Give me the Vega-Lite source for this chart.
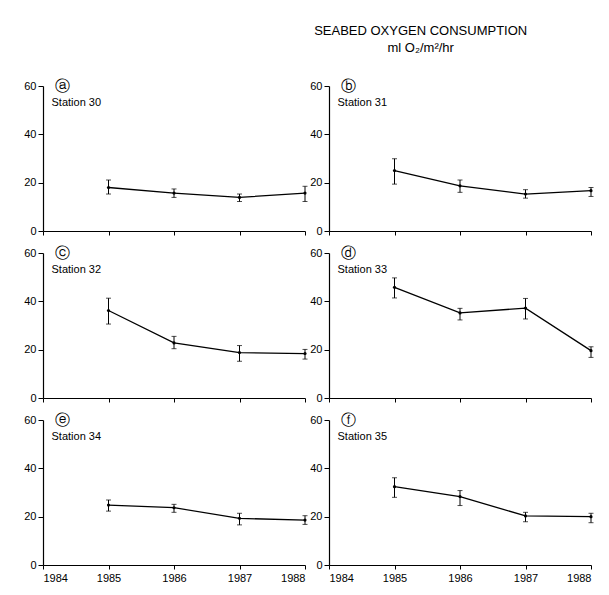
{
  "$schema": "https://vega.github.io/schema/vega-lite/v6.json",
  "padding": {"left": 23, "top": 25, "right": 5, "bottom": 5},
  "background": "white",
  "title": {"text": "SEABED OXYGEN CONSUMPTION", "subtitle": "ml O₂/m²/hr", "anchor": "middle", "dx": 112, "font": "Liberation Sans", "fontSize": 13, "fontWeight": "normal", "color": "black", "subtitleFont": "Liberation Sans", "subtitleFontSize": 13, "subtitleColor": "black", "subtitlePadding": 4, "offset": 24},
  "datasets": {
    "obs": [
      {"station": "Station 30", "year": 1985, "value": 18.0, "lo": 15.3, "hi": 21.1},
      {"station": "Station 30", "year": 1986, "value": 15.7, "lo": 13.9, "hi": 17.4},
      {"station": "Station 30", "year": 1987, "value": 13.9, "lo": 12.2, "hi": 15.3},
      {"station": "Station 30", "year": 1988, "value": 15.7, "lo": 12.2, "hi": 18.5},
      {"station": "Station 31", "year": 1985, "value": 25.0, "lo": 19.4, "hi": 29.9},
      {"station": "Station 31", "year": 1986, "value": 18.7, "lo": 16.0, "hi": 21.1},
      {"station": "Station 31", "year": 1987, "value": 15.3, "lo": 13.6, "hi": 17.1},
      {"station": "Station 31", "year": 1988, "value": 16.7, "lo": 14.3, "hi": 18.0},
      {"station": "Station 32", "year": 1985, "value": 36.2, "lo": 30.6, "hi": 41.3},
      {"station": "Station 32", "year": 1986, "value": 22.8, "lo": 20.4, "hi": 25.5},
      {"station": "Station 32", "year": 1987, "value": 18.8, "lo": 15.2, "hi": 21.7},
      {"station": "Station 32", "year": 1988, "value": 18.4, "lo": 16.1, "hi": 20.1},
      {"station": "Station 33", "year": 1985, "value": 45.8, "lo": 41.4, "hi": 49.7},
      {"station": "Station 33", "year": 1986, "value": 35.2, "lo": 32.3, "hi": 37.1},
      {"station": "Station 33", "year": 1987, "value": 37.2, "lo": 32.7, "hi": 41.2},
      {"station": "Station 33", "year": 1988, "value": 19.6, "lo": 16.8, "hi": 21.2},
      {"station": "Station 34", "year": 1985, "value": 24.8, "lo": 22.3, "hi": 26.9},
      {"station": "Station 34", "year": 1986, "value": 23.7, "lo": 21.8, "hi": 25.1},
      {"station": "Station 34", "year": 1987, "value": 19.3, "lo": 16.6, "hi": 21.4},
      {"station": "Station 34", "year": 1988, "value": 18.6, "lo": 16.8, "hi": 20.4},
      {"station": "Station 35", "year": 1985, "value": 32.4, "lo": 28.0, "hi": 36.1},
      {"station": "Station 35", "year": 1986, "value": 28.3, "lo": 24.6, "hi": 30.8},
      {"station": "Station 35", "year": 1987, "value": 20.3, "lo": 17.9, "hi": 21.8},
      {"station": "Station 35", "year": 1988, "value": 20.0, "lo": 17.5, "hi": 21.4}
    ]
  },
  "columns": 2,
  "spacing": {"row": 22, "column": 24},
  "bounds": "flush",
  "concat": [
    {"width": 262, "height": 145,
     "layer": [
       {"data": {"name": "obs"}, "transform": [{"filter": "datum.station === 'Station 30'"}],
        "encoding": {"x": {"field": "year", "type": "quantitative", "scale": {"domain": [1984, 1988]}, "title": null, "axis": {"values": [1984, 1985, 1986, 1987, 1988], "format": "d", "labels": false}}},
        "layer": [
          {"mark": {"type": "rule", "color": "black", "strokeWidth": 1}, "encoding": {"y": {"field": "lo", "type": "quantitative", "title": null, "scale": {"domain": [0, 60]}, "axis": {"values": [0, 5, 10, 15, 20, 25, 30, 35, 40, 45, 50, 55, 60], "labelExpr": "datum.value % 20 === 0 ? datum.label : ''", "tickSize": {"condition": {"test": "datum.value % 20 === 0", "value": 5}, "value": 2}}}, "y2": {"field": "hi"}}},
          {"mark": {"type": "tick", "orient": "horizontal", "color": "black", "size": 5, "thickness": 1}, "encoding": {"y": {"field": "lo", "type": "quantitative", "title": null}}},
          {"mark": {"type": "tick", "orient": "horizontal", "color": "black", "size": 5, "thickness": 1}, "encoding": {"y": {"field": "hi", "type": "quantitative", "title": null}}},
          {"mark": {"type": "line", "color": "black", "strokeWidth": 1.3}, "encoding": {"y": {"field": "value", "type": "quantitative", "title": null}}},
          {"mark": {"type": "point", "filled": true, "color": "black", "size": 10, "opacity": 1}, "encoding": {"y": {"field": "value", "type": "quantitative", "title": null}}}
        ]},
       {"data": {"values": [{"letter": "ⓐ", "station": "Station 30"}]}, "mark": {"type": "text", "font": "DejaVu Sans", "fontSize": 15, "align": "center", "baseline": "middle", "color": "black"}, "encoding": {"x": {"datum": 1984.3, "type": "quantitative"}, "y": {"datum": 60, "type": "quantitative"}, "text": {"field": "letter"}}},
       {"data": {"values": [{"letter": "ⓐ", "station": "Station 30"}]}, "mark": {"type": "text", "font": "Liberation Sans", "fontSize": 11, "align": "left", "baseline": "middle", "color": "black"}, "encoding": {"x": {"datum": 1984.13, "type": "quantitative"}, "y": {"datum": 53, "type": "quantitative"}, "text": {"field": "station"}}}
     ]},
    {"width": 262, "height": 145,
     "layer": [
       {"data": {"name": "obs"}, "transform": [{"filter": "datum.station === 'Station 31'"}],
        "encoding": {"x": {"field": "year", "type": "quantitative", "scale": {"domain": [1984, 1988]}, "title": null, "axis": {"values": [1984, 1985, 1986, 1987, 1988], "format": "d", "labels": false}}},
        "layer": [
          {"mark": {"type": "rule", "color": "black", "strokeWidth": 1}, "encoding": {"y": {"field": "lo", "type": "quantitative", "title": null, "scale": {"domain": [0, 60]}, "axis": {"values": [0, 5, 10, 15, 20, 25, 30, 35, 40, 45, 50, 55, 60], "labelExpr": "datum.value % 20 === 0 ? datum.label : ''", "tickSize": {"condition": {"test": "datum.value % 20 === 0", "value": 5}, "value": 2}}}, "y2": {"field": "hi"}}},
          {"mark": {"type": "tick", "orient": "horizontal", "color": "black", "size": 5, "thickness": 1}, "encoding": {"y": {"field": "lo", "type": "quantitative", "title": null}}},
          {"mark": {"type": "tick", "orient": "horizontal", "color": "black", "size": 5, "thickness": 1}, "encoding": {"y": {"field": "hi", "type": "quantitative", "title": null}}},
          {"mark": {"type": "line", "color": "black", "strokeWidth": 1.3}, "encoding": {"y": {"field": "value", "type": "quantitative", "title": null}}},
          {"mark": {"type": "point", "filled": true, "color": "black", "size": 10, "opacity": 1}, "encoding": {"y": {"field": "value", "type": "quantitative", "title": null}}}
        ]},
       {"data": {"values": [{"letter": "ⓑ", "station": "Station 31"}]}, "mark": {"type": "text", "font": "DejaVu Sans", "fontSize": 15, "align": "center", "baseline": "middle", "color": "black"}, "encoding": {"x": {"datum": 1984.3, "type": "quantitative"}, "y": {"datum": 60, "type": "quantitative"}, "text": {"field": "letter"}}},
       {"data": {"values": [{"letter": "ⓑ", "station": "Station 31"}]}, "mark": {"type": "text", "font": "Liberation Sans", "fontSize": 11, "align": "left", "baseline": "middle", "color": "black"}, "encoding": {"x": {"datum": 1984.13, "type": "quantitative"}, "y": {"datum": 53, "type": "quantitative"}, "text": {"field": "station"}}}
     ]},
    {"width": 262, "height": 145,
     "layer": [
       {"data": {"name": "obs"}, "transform": [{"filter": "datum.station === 'Station 32'"}],
        "encoding": {"x": {"field": "year", "type": "quantitative", "scale": {"domain": [1984, 1988]}, "title": null, "axis": {"values": [1984, 1985, 1986, 1987, 1988], "format": "d", "labels": false}}},
        "layer": [
          {"mark": {"type": "rule", "color": "black", "strokeWidth": 1}, "encoding": {"y": {"field": "lo", "type": "quantitative", "title": null, "scale": {"domain": [0, 60]}, "axis": {"values": [0, 5, 10, 15, 20, 25, 30, 35, 40, 45, 50, 55, 60], "labelExpr": "datum.value % 20 === 0 ? datum.label : ''", "tickSize": {"condition": {"test": "datum.value % 20 === 0", "value": 5}, "value": 2}}}, "y2": {"field": "hi"}}},
          {"mark": {"type": "tick", "orient": "horizontal", "color": "black", "size": 5, "thickness": 1}, "encoding": {"y": {"field": "lo", "type": "quantitative", "title": null}}},
          {"mark": {"type": "tick", "orient": "horizontal", "color": "black", "size": 5, "thickness": 1}, "encoding": {"y": {"field": "hi", "type": "quantitative", "title": null}}},
          {"mark": {"type": "line", "color": "black", "strokeWidth": 1.3}, "encoding": {"y": {"field": "value", "type": "quantitative", "title": null}}},
          {"mark": {"type": "point", "filled": true, "color": "black", "size": 10, "opacity": 1}, "encoding": {"y": {"field": "value", "type": "quantitative", "title": null}}}
        ]},
       {"data": {"values": [{"letter": "ⓒ", "station": "Station 32"}]}, "mark": {"type": "text", "font": "DejaVu Sans", "fontSize": 15, "align": "center", "baseline": "middle", "color": "black"}, "encoding": {"x": {"datum": 1984.3, "type": "quantitative"}, "y": {"datum": 60, "type": "quantitative"}, "text": {"field": "letter"}}},
       {"data": {"values": [{"letter": "ⓒ", "station": "Station 32"}]}, "mark": {"type": "text", "font": "Liberation Sans", "fontSize": 11, "align": "left", "baseline": "middle", "color": "black"}, "encoding": {"x": {"datum": 1984.13, "type": "quantitative"}, "y": {"datum": 53, "type": "quantitative"}, "text": {"field": "station"}}}
     ]},
    {"width": 262, "height": 145,
     "layer": [
       {"data": {"name": "obs"}, "transform": [{"filter": "datum.station === 'Station 33'"}],
        "encoding": {"x": {"field": "year", "type": "quantitative", "scale": {"domain": [1984, 1988]}, "title": null, "axis": {"values": [1984, 1985, 1986, 1987, 1988], "format": "d", "labels": false}}},
        "layer": [
          {"mark": {"type": "rule", "color": "black", "strokeWidth": 1}, "encoding": {"y": {"field": "lo", "type": "quantitative", "title": null, "scale": {"domain": [0, 60]}, "axis": {"values": [0, 5, 10, 15, 20, 25, 30, 35, 40, 45, 50, 55, 60], "labelExpr": "datum.value % 20 === 0 ? datum.label : ''", "tickSize": {"condition": {"test": "datum.value % 20 === 0", "value": 5}, "value": 2}}}, "y2": {"field": "hi"}}},
          {"mark": {"type": "tick", "orient": "horizontal", "color": "black", "size": 5, "thickness": 1}, "encoding": {"y": {"field": "lo", "type": "quantitative", "title": null}}},
          {"mark": {"type": "tick", "orient": "horizontal", "color": "black", "size": 5, "thickness": 1}, "encoding": {"y": {"field": "hi", "type": "quantitative", "title": null}}},
          {"mark": {"type": "line", "color": "black", "strokeWidth": 1.3}, "encoding": {"y": {"field": "value", "type": "quantitative", "title": null}}},
          {"mark": {"type": "point", "filled": true, "color": "black", "size": 10, "opacity": 1}, "encoding": {"y": {"field": "value", "type": "quantitative", "title": null}}}
        ]},
       {"data": {"values": [{"letter": "ⓓ", "station": "Station 33"}]}, "mark": {"type": "text", "font": "DejaVu Sans", "fontSize": 15, "align": "center", "baseline": "middle", "color": "black"}, "encoding": {"x": {"datum": 1984.3, "type": "quantitative"}, "y": {"datum": 60, "type": "quantitative"}, "text": {"field": "letter"}}},
       {"data": {"values": [{"letter": "ⓓ", "station": "Station 33"}]}, "mark": {"type": "text", "font": "Liberation Sans", "fontSize": 11, "align": "left", "baseline": "middle", "color": "black"}, "encoding": {"x": {"datum": 1984.13, "type": "quantitative"}, "y": {"datum": 53, "type": "quantitative"}, "text": {"field": "station"}}}
     ]},
    {"width": 262, "height": 145,
     "layer": [
       {"data": {"name": "obs"}, "transform": [{"filter": "datum.station === 'Station 34'"}],
        "encoding": {"x": {"field": "year", "type": "quantitative", "scale": {"domain": [1984, 1988]}, "title": null, "axis": {"values": [1984, 1985, 1986, 1987, 1988], "format": "d", "labels": true}}},
        "layer": [
          {"mark": {"type": "rule", "color": "black", "strokeWidth": 1}, "encoding": {"y": {"field": "lo", "type": "quantitative", "title": null, "scale": {"domain": [0, 60]}, "axis": {"values": [0, 5, 10, 15, 20, 25, 30, 35, 40, 45, 50, 55, 60], "labelExpr": "datum.value % 20 === 0 ? datum.label : ''", "tickSize": {"condition": {"test": "datum.value % 20 === 0", "value": 5}, "value": 2}}}, "y2": {"field": "hi"}}},
          {"mark": {"type": "tick", "orient": "horizontal", "color": "black", "size": 5, "thickness": 1}, "encoding": {"y": {"field": "lo", "type": "quantitative", "title": null}}},
          {"mark": {"type": "tick", "orient": "horizontal", "color": "black", "size": 5, "thickness": 1}, "encoding": {"y": {"field": "hi", "type": "quantitative", "title": null}}},
          {"mark": {"type": "line", "color": "black", "strokeWidth": 1.3}, "encoding": {"y": {"field": "value", "type": "quantitative", "title": null}}},
          {"mark": {"type": "point", "filled": true, "color": "black", "size": 10, "opacity": 1}, "encoding": {"y": {"field": "value", "type": "quantitative", "title": null}}}
        ]},
       {"data": {"values": [{"letter": "ⓔ", "station": "Station 34"}]}, "mark": {"type": "text", "font": "DejaVu Sans", "fontSize": 15, "align": "center", "baseline": "middle", "color": "black"}, "encoding": {"x": {"datum": 1984.3, "type": "quantitative"}, "y": {"datum": 60, "type": "quantitative"}, "text": {"field": "letter"}}},
       {"data": {"values": [{"letter": "ⓔ", "station": "Station 34"}]}, "mark": {"type": "text", "font": "Liberation Sans", "fontSize": 11, "align": "left", "baseline": "middle", "color": "black"}, "encoding": {"x": {"datum": 1984.13, "type": "quantitative"}, "y": {"datum": 53, "type": "quantitative"}, "text": {"field": "station"}}}
     ]},
    {"width": 262, "height": 145,
     "layer": [
       {"data": {"name": "obs"}, "transform": [{"filter": "datum.station === 'Station 35'"}],
        "encoding": {"x": {"field": "year", "type": "quantitative", "scale": {"domain": [1984, 1988]}, "title": null, "axis": {"values": [1984, 1985, 1986, 1987, 1988], "format": "d", "labels": true}}},
        "layer": [
          {"mark": {"type": "rule", "color": "black", "strokeWidth": 1}, "encoding": {"y": {"field": "lo", "type": "quantitative", "title": null, "scale": {"domain": [0, 60]}, "axis": {"values": [0, 5, 10, 15, 20, 25, 30, 35, 40, 45, 50, 55, 60], "labelExpr": "datum.value % 20 === 0 ? datum.label : ''", "tickSize": {"condition": {"test": "datum.value % 20 === 0", "value": 5}, "value": 2}}}, "y2": {"field": "hi"}}},
          {"mark": {"type": "tick", "orient": "horizontal", "color": "black", "size": 5, "thickness": 1}, "encoding": {"y": {"field": "lo", "type": "quantitative", "title": null}}},
          {"mark": {"type": "tick", "orient": "horizontal", "color": "black", "size": 5, "thickness": 1}, "encoding": {"y": {"field": "hi", "type": "quantitative", "title": null}}},
          {"mark": {"type": "line", "color": "black", "strokeWidth": 1.3}, "encoding": {"y": {"field": "value", "type": "quantitative", "title": null}}},
          {"mark": {"type": "point", "filled": true, "color": "black", "size": 10, "opacity": 1}, "encoding": {"y": {"field": "value", "type": "quantitative", "title": null}}}
        ]},
       {"data": {"values": [{"letter": "ⓕ", "station": "Station 35"}]}, "mark": {"type": "text", "font": "DejaVu Sans", "fontSize": 15, "align": "center", "baseline": "middle", "color": "black"}, "encoding": {"x": {"datum": 1984.3, "type": "quantitative"}, "y": {"datum": 60, "type": "quantitative"}, "text": {"field": "letter"}}},
       {"data": {"values": [{"letter": "ⓕ", "station": "Station 35"}]}, "mark": {"type": "text", "font": "Liberation Sans", "fontSize": 11, "align": "left", "baseline": "middle", "color": "black"}, "encoding": {"x": {"datum": 1984.13, "type": "quantitative"}, "y": {"datum": 53, "type": "quantitative"}, "text": {"field": "station"}}}
     ]}
  ],
  "config": {
    "view": {"stroke": null},
    "axis": {"grid": false, "domainColor": "black", "domainWidth": 1.2, "tickColor": "black", "tickWidth": 1, "labelColor": "black", "labelFont": "Liberation Sans", "labelFontSize": 11, "labelPadding": 2},
    "axisX": {"tickSize": 4, "labelPadding": 3}
  }
}
